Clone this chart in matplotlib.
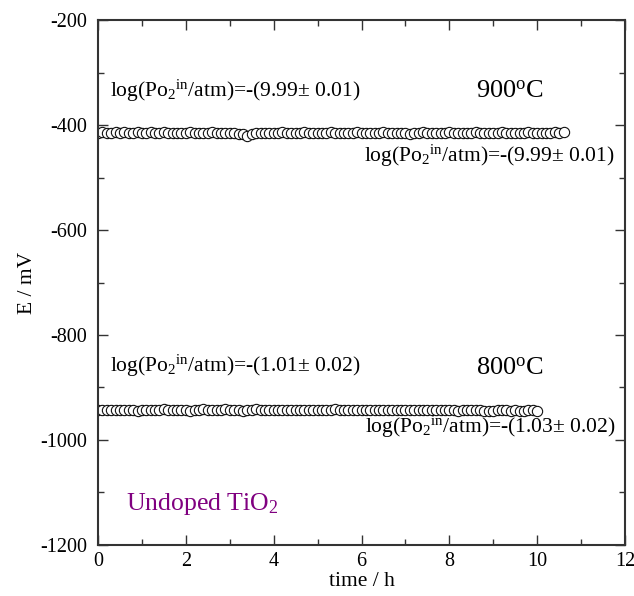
import numpy as np
import matplotlib
matplotlib.use("Agg")
import matplotlib.pyplot as plt
from matplotlib.ticker import MultipleLocator

plt.rcParams['font.family'] = ['Liberation Serif', 'DejaVu Serif']
plt.rcParams['mathtext.fontset'] = 'custom'
plt.rcParams['mathtext.rm'] = 'Liberation Serif'
plt.rcParams['mathtext.it'] = 'Liberation Serif:italic'
plt.rcParams['mathtext.bf'] = 'Liberation Serif:bold'
plt.rcParams['axes.unicode_minus'] = False

# ---- data ----
dt_h = 0.1  # sampling interval (h)
E_900 = [-415, -414, -415, -415, -414, -415, -414, -415, -415, -414,
         -415, -415, -414, -415, -415, -414, -415, -415, -416, -415,
         -415, -414, -415, -416, -415, -415, -414, -415, -415, -416,
         -415, -416, -417, -418, -421, -418, -416, -415, -415, -416,
         -415, -415, -414, -415, -416, -415, -415, -414, -415, -415,
         -416, -415, -415, -414, -415, -415, -415, -416, -415, -414,
         -415, -415, -416, -415, -415, -414, -415, -415, -415, -416,
         -416, -417, -415, -415, -414, -415, -415, -416, -415, -415,
         -414, -415, -415, -416, -415, -415, -414, -415, -415, -415,
         -416, -415, -414, -415, -415, -416, -415, -415, -414, -415,
         -415, -416, -415, -415, -414, -415, -414]
E_800 = [-943, -942, -943, -943, -942, -943, -943, -942, -943, -944,
         -943, -942, -943, -943, -942, -941, -943, -942, -943, -942,
         -943, -944, -943, -942, -941, -943, -942, -943, -942, -941,
         -943, -942, -943, -944, -943, -942, -941, -943, -942, -943,
         -942, -943, -943, -942, -943, -943, -942, -943, -942, -943,
         -942, -943, -943, -942, -941, -942, -943, -943, -942, -943,
         -942, -943, -942, -943, -943, -942, -943, -942, -943, -943,
         -942, -943, -942, -943, -943, -942, -943, -943, -942, -943,
         -942, -943, -944, -943, -942, -943, -942, -943, -944, -945,
         -944, -943, -942, -943, -944, -943, -945, -944, -943, -942,
         -944]
t_900 = np.arange(len(E_900)) * dt_h
t_800 = np.arange(len(E_800)) * dt_h

temps = ['900$^{\\rm o}$C', '800$^{\\rm o}$C']
po2_in = ['-(9.99± 0.01)', '-(1.01± 0.02)']
po2_out = ['-(9.99± 0.01)', '-(1.03± 0.02)']
sample_label = 'Undoped TiO$_{2}$'
x_label = 'time / h'
y_label = 'E / mV'

def po2_text(v):
    return 'log(Po$_{2}$$^{\\rm in}$/atm)=' + v

fig = plt.figure(figsize=(6.34, 5.96), dpi=100)
ax = fig.add_axes([0.1546, 0.0856, 0.8312, 0.8808])

mk = dict(ls='none', marker='o', ms=7.4, mfc='white', mec='#111111', mew=0.8)
ax.plot(t_900, E_900, **mk)
ax.plot(t_800, E_800, **mk)

ax.set_xlim(0, 12)
ax.set_ylim(-1200, -200)
ax.xaxis.set_major_locator(MultipleLocator(2))
ax.xaxis.set_minor_locator(MultipleLocator(1))
ax.yaxis.set_major_locator(MultipleLocator(200))
ax.yaxis.set_minor_locator(MultipleLocator(100))
ax.tick_params(which='both', direction='in', top=True, right=True,
               labelsize=14.5, width=1.0, color='#333333')
ax.tick_params(which='major', length=7)
ax.tick_params(which='minor', length=4)
ax.tick_params(axis='y', pad=8)
ax.tick_params(axis='x', pad=5)
for s in ax.spines.values():
    s.set_linewidth(1.5)
    s.set_color('#333333')

ax.set_xlabel(x_label, fontsize=15.5, labelpad=1)
ax.set_ylabel(y_label, fontsize=15.5, labelpad=2)

fs = 15.5
ax.text(0.27, -346, po2_text(po2_in[0]), fontsize=fs, va='baseline')
ax.text(8.61, -347, temps[0], fontsize=19, va='baseline')
ax.text(6.05, -470, po2_text(po2_out[0]), fontsize=fs, va='baseline')
ax.text(0.27, -870, po2_text(po2_in[1]), fontsize=fs, va='baseline')
ax.text(8.61, -876, temps[1], fontsize=19, va='baseline')
ax.text(6.07, -987, po2_text(po2_out[1]), fontsize=fs, va='baseline')
ax.text(0.64, -1133, sample_label, fontsize=18.5, color='#800080', va='baseline')

fig.savefig('out.png', dpi=100)
